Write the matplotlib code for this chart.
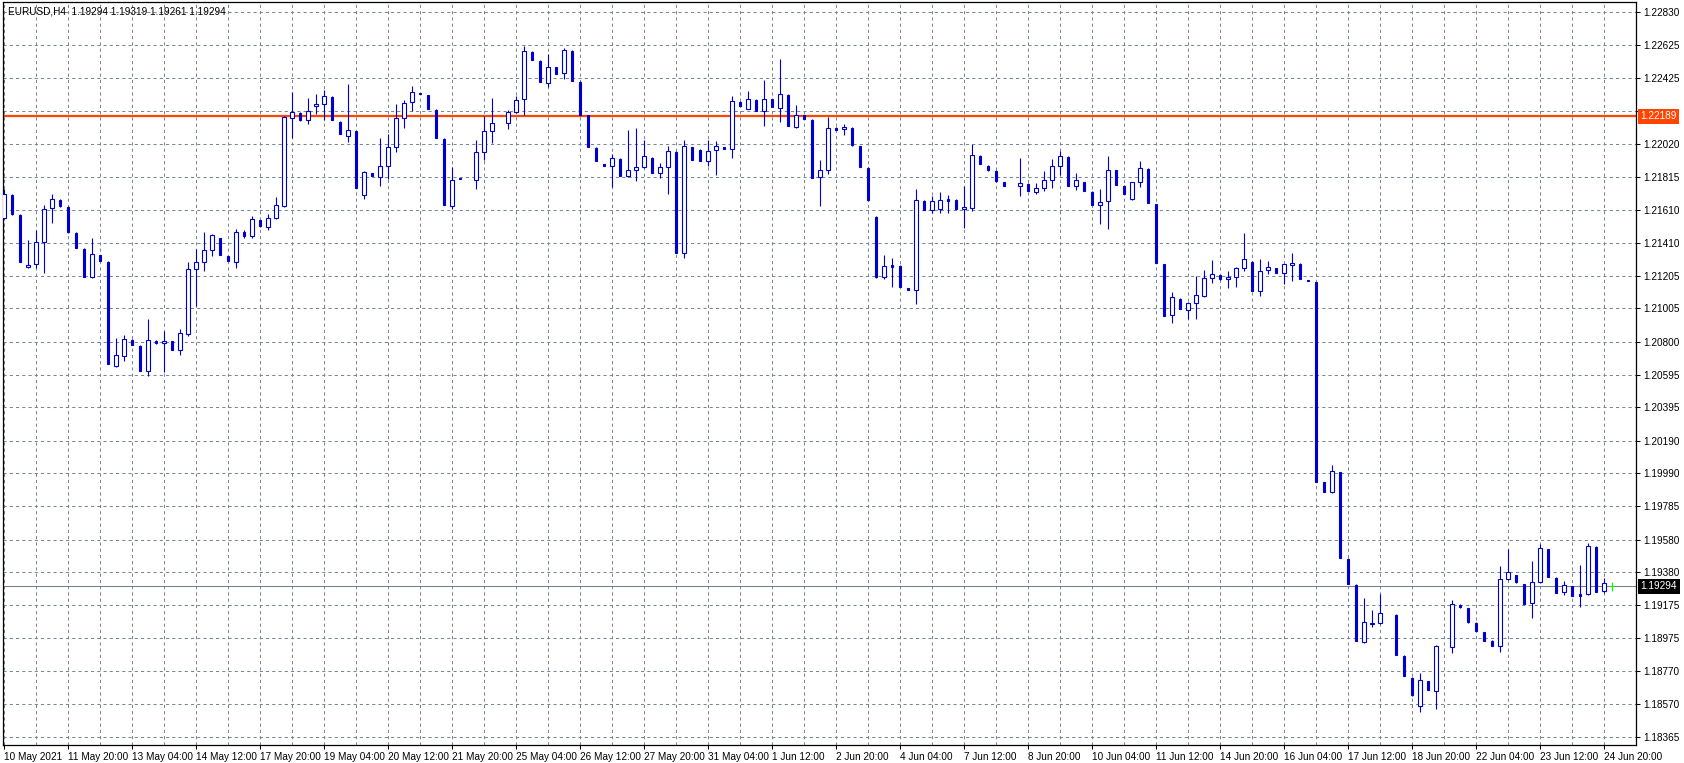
import matplotlib
matplotlib.use('Agg')
import matplotlib.pyplot as plt
import numpy as np

plt.rcParams['font.family'] = ['Liberation Sans', 'DejaVu Sans']

# EURUSD H4, first bar = 10 May 2021 12:00 (None = bar not visible)
opens = [1.21561, 1.21705, 1.21580, 1.21258, 1.21276, 1.21412, 1.21621, 1.21672, 1.21629, 1.21471,
         1.21370, 1.21196, 1.21333, 1.21290, 1.20652, 1.20709, 1.20810, 1.20773, 1.20617, 1.20804,
         1.20790, 1.20804, 1.20746, 1.20845, 1.21245, 1.21288, 1.21362, 1.21436, 1.21327, 1.21288,
         1.21473, 1.21450, 1.21547, 1.21504, 1.21559, 1.21637, 1.22175, 1.22208, 1.22163, 1.22249,
         1.22262, 1.22306, 1.22153, 1.22068, 1.22097, 1.21705, 1.21838, 1.21812, 1.21880, 1.21997,
         1.22179, 1.22274, 1.22331, 1.22319, 1.22226, 1.22048, 1.21637, 1.21808, None, 1.21793,
         1.21966, 1.22095, None, 1.22144, 1.22212, 1.22292, 1.22584, 1.22528, 1.22391, 1.22491,
         1.22452, 1.22590, 1.22399, 1.22194, 1.21992, 1.21894, 1.21880, 1.21925, 1.21822, 1.21855,
         1.21874, 1.21931, 1.21837, 1.21874, 1.21968, 1.21344, 1.21997, 1.21980, 1.21910, 1.21978,
         1.21997, 1.21984, 1.22276, 1.22234, 1.22288, 1.22218, 1.22292, 1.22241, 1.22319, 1.22124,
         1.22194, 1.22165, 1.21812, 1.21855, 1.22116, 1.22108, 1.22116, 1.22005, 1.21869, 1.21567,
         1.21196, 1.21270, 1.21266, 1.21130, 1.21116, 1.21666, 1.21609, 1.21615, 1.21680, 1.21672,
         1.21615, 1.21625, 1.21943, 1.21882, 1.21851, 1.21783, None, 1.21757, 1.21771, 1.21720,
         1.21744, 1.21793, 1.21880, 1.21937, 1.21757, 1.21783, 1.21721, 1.21640, 1.21664, 1.21857,
         1.21758, 1.21676, 1.21781, 1.21863, 1.21647, 1.21278, 1.20962, 1.21062, 1.20993, 1.21036,
         1.21081, 1.21190, 1.21208, 1.21184, 1.21196, 1.21251, 1.21290, 1.21110, 1.21239, 1.21251,
         1.21221, 1.21274, 1.21278, 1.21179, 1.21167, 1.19933, 1.19876, 1.19995, 1.19461, 1.19301,
         1.18952, 1.19061, 1.19065, None, 1.19116, 1.18864, 1.18728, 1.18556, 1.18708, 1.18646,
         None, 1.18917, 1.19178, 1.19159, 1.19067, 1.19011, 1.18956, 1.18923, 1.19336, 1.19361,
         1.19305, 1.19188, 1.19318, 1.19521, 1.19344, 1.19256, 1.19293, 1.19245, 1.19244, 1.19535,
         1.19262, 1.19294]
highs = [1.21740, 1.21712, 1.21585, 1.21426, 1.21487, 1.21641, 1.21709, 1.21676, 1.21633, 1.21475,
         1.21374, 1.21438, 1.21336, 1.21294, 1.20820, 1.20841, 1.20814, 1.20776, 1.20939, 1.20808,
         1.20865, 1.20806, 1.20878, 1.21292, 1.21368, 1.21475, 1.21463, 1.21440, 1.21330, 1.21492,
         1.21487, 1.21574, 1.21550, 1.21584, 1.21691, 1.22191, 1.22337, 1.22212, 1.22298, 1.22325,
         1.22350, 1.22310, 1.22157, 1.22387, 1.22100, 1.21853, 1.21841, 1.22052, 1.22079, 1.22263,
         1.22288, 1.22374, 1.22333, 1.22322, 1.22230, 1.22052, 1.21877, 1.21810, None, 1.22042,
         1.22189, 1.22298, None, 1.22226, 1.22313, 1.22621, 1.22588, 1.22532, 1.22571, 1.22494,
         1.22606, 1.22594, 1.22403, 1.22197, 1.21996, 1.21897, 1.21957, 1.21929, 1.22103, 1.22116,
         1.22042, 1.21935, 1.21900, 1.22007, 1.21972, 1.22042, 1.22001, 1.21984, 1.22042, 1.22035,
         1.22000, 1.22313, 1.22280, 1.22343, 1.22292, 1.22411, 1.22296, 1.22541, 1.22323, 1.22257,
         1.22197, 1.22169, 1.21918, 1.22183, 1.22119, 1.22140, 1.22120, 1.22008, 1.21873, 1.21572,
         1.21333, 1.21313, 1.21270, 1.21133, 1.21740, 1.21670, 1.21699, 1.21721, 1.21703, 1.21676,
         1.21758, 1.22017, 1.21947, 1.21886, 1.21855, 1.21786, None, 1.21931, 1.21774, 1.21775,
         1.21851, 1.21925, 1.21974, 1.21941, 1.21837, 1.21786, 1.21725, 1.21738, 1.21943, 1.21860,
         1.21762, 1.21784, 1.21910, 1.21867, 1.21650, 1.21281, 1.21106, 1.21066, 1.21042, 1.21204,
         1.21239, 1.21301, 1.21211, 1.21235, 1.21259, 1.21467, 1.21294, 1.21307, 1.21295, 1.21255,
         1.21276, 1.21346, 1.21282, 1.21181, 1.21170, 1.19937, 1.20040, 1.19999, 1.19465, 1.19305,
         1.19223, 1.19147, 1.19245, None, 1.19120, 1.18867, 1.18731, 1.18759, 1.18711, 1.18931,
         None, 1.19209, 1.19181, 1.19162, 1.19070, 1.19014, 1.18959, 1.19418, 1.19523, 1.19364,
         1.19308, 1.19449, 1.19552, 1.19525, 1.19347, 1.19326, 1.19296, 1.19424, 1.19561, 1.19539,
         1.19342, 1.19319]
lows = [1.21555, 1.21580, 1.21288, 1.21252, 1.21251, 1.21224, 1.21532, 1.21632, 1.21472, 1.21374,
        1.21195, 1.21192, 1.21294, 1.20660, 1.20645, 1.20682, 1.20778, 1.20618, 1.20590, 1.20788,
        1.20615, 1.20746, 1.20719, 1.20836, 1.21021, 1.21237, 1.21327, 1.21331, 1.21294, 1.21255,
        1.21438, 1.21438, 1.21508, 1.21487, 1.21553, 1.21631, 1.22054, 1.22160, 1.22140, 1.22202,
        1.22165, 1.22163, 1.22076, 1.22031, 1.21744, 1.21680, 1.21818, 1.21760, 1.21803, 1.21970,
        1.22117, 1.22222, 1.22325, 1.22230, 1.22052, 1.21640, 1.21617, 1.21802, None, 1.21742,
        1.21918, 1.22025, None, 1.22111, 1.22206, 1.22197, 1.22532, 1.22397, 1.22370, 1.22447,
        1.22416, 1.22403, 1.22193, 1.21996, 1.21910, 1.21880, 1.21750, 1.21818, 1.21814, 1.21791,
        1.21867, 1.21836, 1.21809, 1.21711, 1.21344, 1.21317, 1.21916, 1.21910, 1.21882, 1.21828,
        1.21985, 1.21933, 1.22250, 1.22230, 1.22218, 1.22130, 1.22243, 1.22154, 1.22126, 1.22117,
        1.22170, 1.21805, 1.21637, 1.21834, 1.22102, 1.22072, 1.22007, 1.21873, 1.21668, 1.21194,
        1.21184, 1.21138, 1.21134, 1.21117, 1.21033, 1.21608, 1.21594, 1.21594, 1.21594, 1.21613,
        1.21502, 1.21604, 1.21892, 1.21853, 1.21785, 1.21757, None, 1.21699, 1.21725, 1.21707,
        1.21729, 1.21748, 1.21828, 1.21757, 1.21736, 1.21726, 1.21640, 1.21526, 1.21495, 1.21763,
        1.21707, 1.21673, 1.21754, 1.21651, 1.21282, 1.20956, 1.20916, 1.20999, 1.20937, 1.20937,
        1.21076, 1.21163, 1.21180, 1.21132, 1.21138, 1.21235, 1.21110, 1.21083, 1.21214, 1.21220,
        1.21157, 1.21175, 1.21183, 1.21174, 1.19933, 1.19872, 1.19869, 1.19465, 1.19305, 1.18954,
        1.18946, 1.19040, 1.19059, None, 1.18868, 1.18738, 1.18619, 1.18519, 1.18652, 1.18537,
        None, 1.18884, 1.19162, 1.19069, 1.19016, 1.18954, 1.18923, 1.18890, 1.19333, 1.19314,
        1.19182, 1.19100, 1.19315, 1.19348, 1.19250, 1.19241, 1.19231, 1.19165, 1.19241, 1.19256,
        1.19250, 1.19261]
closes = [1.21709, 1.21588, 1.21292, 1.21270, 1.21412, 1.21619, 1.21676, 1.21637, 1.21477, 1.21378,
          1.21200, 1.21338, 1.21298, 1.20664, 1.20716, 1.20814, 1.20781, 1.20621, 1.20808, 1.20791,
          1.20802, 1.20750, 1.20851, 1.21245, 1.21288, 1.21364, 1.21455, 1.21335, 1.21298, 1.21473,
          1.21450, 1.21553, 1.21512, 1.21559, 1.21640, 1.22181, 1.22214, 1.22165, 1.22220, 1.22263,
          1.22311, 1.22167, 1.22080, 1.22103, 1.21748, 1.21843, 1.21822, 1.21880, 1.21997, 1.22175,
          1.22268, 1.22335, 1.22327, 1.22233, 1.22056, 1.21643, 1.21793, 1.21804, None, 1.21966,
          1.22095, 1.22144, None, 1.22214, 1.22286, 1.22588, 1.22536, 1.22401, 1.22489, 1.22450,
          1.22594, 1.22407, 1.22197, 1.22000, 1.21914, 1.21883, 1.21929, 1.21822, 1.21855, 1.21874,
          1.21941, 1.21840, 1.21874, 1.21972, 1.21348, 1.22005, 1.21920, 1.21914, 1.21972, 1.22003,
          1.21988, 1.22280, 1.22253, 1.22292, 1.22222, 1.22292, 1.22247, 1.22323, 1.22130, 1.22197,
          1.22173, 1.21809, 1.21855, 1.22114, 1.22105, 1.22120, 1.22011, 1.21877, 1.21672, 1.21198,
          1.21264, 1.21261, 1.21138, 1.21120, 1.21670, 1.21612, 1.21664, 1.21670, 1.21668, 1.21617,
          1.21627, 1.21947, 1.21896, 1.21857, 1.21789, 1.21760, None, 1.21777, 1.21729, 1.21744,
          1.21793, 1.21880, 1.21941, 1.21760, 1.21793, 1.21729, 1.21643, 1.21658, 1.21855, 1.21766,
          1.21711, 1.21781, 1.21867, 1.21655, 1.21286, 1.20960, 1.21073, 1.21003, 1.21036, 1.21085,
          1.21190, 1.21214, 1.21184, 1.21196, 1.21251, 1.21307, 1.21114, 1.21233, 1.21258, 1.21224,
          1.21276, 1.21284, 1.21187, 1.21176, 1.19937, 1.19876, 1.20001, 1.19469, 1.19309, 1.18958,
          1.19071, 1.19067, 1.19127, None, 1.18872, 1.18742, 1.18623, 1.18714, 1.18656, 1.18923,
          None, 1.19182, 1.19165, 1.19073, 1.19020, 1.18958, 1.18927, 1.19336, 1.19379, 1.19318,
          1.19186, 1.19318, 1.19527, 1.19352, 1.19253, 1.19299, 1.19235, 1.19235, 1.19539, 1.19260,
          1.19311, 1.19294]

price_ticks = [1.22830, 1.22625, 1.22425, 1.22220, 1.22020, 1.21815, 1.21610, 1.21410, 1.21205,
               1.21005, 1.20800, 1.20595, 1.20395, 1.20190, 1.19990, 1.19785, 1.19580, 1.19380,
               1.19175, 1.18975, 1.18770, 1.18570, 1.18365]
date_labels = ['10 May 2021', '11 May 20:00', '13 May 04:00', '14 May 12:00', '17 May 20:00',
               '19 May 04:00', '20 May 12:00', '21 May 20:00', '25 May 04:00', '26 May 12:00',
               '27 May 20:00', '31 May 04:00', '1 Jun 12:00', '2 Jun 20:00', '4 Jun 04:00',
               '7 Jun 12:00', '8 Jun 20:00', '10 Jun 04:00', '11 Jun 12:00', '14 Jun 20:00',
               '16 Jun 04:00', '17 Jun 12:00', '18 Jun 20:00', '22 Jun 04:00', '23 Jun 12:00',
               '24 Jun 20:00']
title_text = 'EURUSD,H4  1.19294 1.19319 1.19261 1.19294'
level_line = 1.22189
bid_price = 1.19294

BLUE = '#0000CD'
GRID = '#778899'
FS = 7.2

o = np.array(opens, dtype=float)
h = np.array(highs, dtype=float)
l = np.array(lows, dtype=float)
c = np.array(closes, dtype=float)
x = np.arange(len(o))
ok = ~np.isnan(o)
up = ok & (c > o)
dn = ok & (c < o)
dj = ok & (c == o)

fig = plt.figure(figsize=(16.84, 7.63), dpi=100)
ax = fig.add_axes([3 / 1684, 18 / 763, 1633 / 1684, 743 / 763])
ax.set_xlim(-0.125, 204)
ax.set_ylim(1.18315, 1.22892)

# grid; the label hidden under the level box stays blank
ax.set_yticks(price_ticks)
ax.set_yticklabels(['' if abs(p - level_line) < 0.0005 else f'{p:.5f}' for p in price_ticks])
ax.set_xticks(np.arange(0, 8 * len(date_labels), 8))
ax.set_xticklabels(date_labels)
ax.set_xticks(np.arange(0, 204, 4), minor=True)
ax.grid(axis='y', color=GRID, linestyle=(0, (3, 3)), linewidth=0.75)
ax.grid(axis='x', which='both', color=GRID, linestyle=(0, (3, 3)), linewidth=0.75)
ax.set_axisbelow(True)

ax.yaxis.tick_right()
ax.tick_params(axis='y', length=3, width=0.75, pad=2.5, labelsize=FS, colors='black')
ax.tick_params(axis='x', which='major', length=3, width=0.75, pad=2, labelsize=FS)
ax.tick_params(axis='x', which='minor', length=0)
for lbl in ax.get_xticklabels():
    lbl.set_ha('left')
for s in ax.spines.values():
    s.set_linewidth(0.9)
    s.set_color('black')

# level line + bid line
ax.axhline(level_line, color='#FF4500', linewidth=1.6, zorder=2.5)
ax.axhline(bid_price, color='#708090', linewidth=0.75, zorder=2.5)

# candles
ax.vlines(x[ok & ~dj], l[ok & ~dj], h[ok & ~dj], color=BLUE, linewidth=0.8, zorder=3)
ax.bar(x[up], c[up] - o[up], bottom=o[up], width=0.5, facecolor='white',
       edgecolor=BLUE, linewidth=0.8, zorder=4)
ax.bar(x[dn], o[dn] - c[dn], bottom=c[dn], width=0.25, facecolor=BLUE,
       edgecolor=BLUE, linewidth=0.8, zorder=4)
ax.vlines(x[dj], l[dj], h[dj], color='#00FF00', linewidth=0.8, zorder=4)
ax.hlines(o[dj], x[dj] - 0.3, x[dj] + 0.3, color='#00FF00', linewidth=0.8, zorder=4)

# texts
ax.text(5 / 1633, 733 / 743, title_text, transform=ax.transAxes, fontsize=FS,
        ha='left', va='center', color='black')
ytr = ax.get_yaxis_transform()
ax.text(1.0028, level_line, f'{level_line:.5f}', transform=ytr, fontsize=FS, color='white',
        ha='left', va='center', clip_on=False, zorder=6,
        bbox=dict(boxstyle='square,pad=0.25', facecolor='#FF4500', edgecolor='none'))
ax.text(1.0028, bid_price, f'{bid_price:.5f}', transform=ytr, fontsize=FS, color='white',
        ha='left', va='center', clip_on=False, zorder=6,
        bbox=dict(boxstyle='square,pad=0.25', facecolor='black', edgecolor='none'))

fig.savefig('out.png', dpi=100, facecolor='white')
